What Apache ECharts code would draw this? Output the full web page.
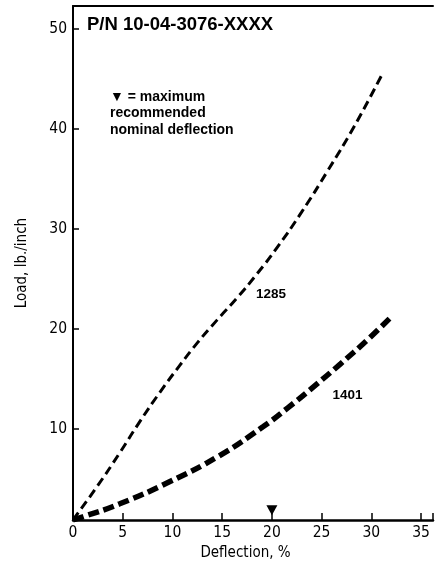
<!DOCTYPE html>
<html>
<head>
<meta charset="utf-8">
<script src="https://cdn.jsdelivr.net/npm/echarts@6/dist/echarts.min.js"></script>
<style>
html,body{margin:0;padding:0;background:#fff;}
#c{width:436px;height:566px;}
</style>
</head>
<body>
<div id="c"></div>
<script>
// Data
const deflection1285 = [0, 2.4, 4.7, 6.7, 8.7, 10.7, 12.5, 14.5, 16.5, 18.5, 20.5, 23.0, 25.6, 28.3, 31.0];
const load1285       = [0.9, 4.2, 7.6, 10.7, 13.6, 16.3, 18.6, 20.9, 23.1, 25.5, 28.1, 31.7, 35.8, 40.3, 45.3];
const deflection1401 = [0, 1.0, 4.7, 9.7, 14.7, 19.1, 21.6, 24.3, 26.9, 29.6, 32.1];
const load1401       = [0.9, 1.2, 2.5, 4.7, 7.3, 10.2, 12.1, 14.3, 16.5, 18.9, 21.3];
const maxRecommendedDeflection = 20;
const xTickLabels = [0, 5, 10, 15, 20, 25, 30, 35];
const yTickLabels = [10, 20, 30, 40, 50];
const seriesNames = ['1285', '1401'];

const narrow = "'Liberation Sans Narrow', 'Arial Narrow', 'DejaVu Sans Condensed', sans-serif";
const sans = "'Liberation Sans', Arial, 'DejaVu Sans', sans-serif";

const zip = (a, b) => a.map((v, i) => [v, b[i]]);

const chart = echarts.init(document.getElementById('c'), null, {renderer: 'canvas'});
chart.setOption({
  animation: false,
  backgroundColor: '#fff',
  grid: {left: 73, right: 0, top: 6, bottom: 42, containLabel: false},
  xAxis: [{
    type: 'value', min: 0, max: 36.2, interval: 5,
    name: 'Deflection, %', nameLocation: 'middle', nameGap: 25,
    nameTextStyle: {fontFamily: narrow, fontSize: 15, color: '#000', padding: [0, 15, 0, 0]},
    axisLine: {show: true, lineStyle: {color: '#000', width: 2.5}},
    axisTick: {show: true, inside: true, length: 7, lineStyle: {color: '#000', width: 1.5}},
    axisLabel: {
      fontFamily: narrow, fontSize: 15.5, color: '#000', margin: 5,
      formatter: v => xTickLabels.includes(v) ? String(v) : ''
    },
    splitLine: {show: false}
  }, {
    type: 'value', position: 'top', min: 0, max: 36.2,
    axisLine: {show: true, lineStyle: {color: '#000', width: 2}},
    axisTick: {show: false}, axisLabel: {show: false}, splitLine: {show: false}
  }],
  yAxis: {
    type: 'value', min: 0.87, max: 52.3,
    name: 'Load, lb./inch', nameLocation: 'middle', nameGap: 43,
    nameTextStyle: {fontFamily: narrow, fontSize: 15, color: '#000'},
    axisLine: {show: true, lineStyle: {color: '#000', width: 2}},
    axisTick: {show: true, inside: true, length: 6, lineStyle: {color: '#000', width: 1.5}},
    axisLabel: {
      fontFamily: narrow, fontSize: 15.5, color: '#000', margin: 6,
      formatter: v => yTickLabels.includes(v) ? String(v) : ''
    },
    splitLine: {show: false}
  },
  series: [{
    name: seriesNames[0], type: 'line', smooth: 0.5, symbol: 'none',
    data: zip(deflection1285, load1285),
    lineStyle: {color: '#000', width: 3, type: [9, 5], cap: 'butt'},
    markPoint: {
      symbol: 'circle', symbolSize: 0,
      label: {show: true, formatter: seriesNames[0], fontFamily: sans, fontWeight: 'bold', fontSize: 13.5, color: '#000'},
      data: [{coord: [19.9, 23.5]}]
    }
  }, {
    name: seriesNames[1], type: 'line', smooth: 0.5, symbol: 'none',
    data: zip(deflection1401, load1401),
    lineStyle: {color: '#000', width: 5.5, type: [11, 5], cap: 'butt'},
    markPoint: {
      symbol: 'circle', symbolSize: 0,
      label: {show: true, formatter: seriesNames[1], fontFamily: sans, fontWeight: 'bold', fontSize: 13.5, color: '#000'},
      data: [{coord: [27.6, 13.4]}]
    }
  }, {
    name: 'max', type: 'scatter',
    data: [[maxRecommendedDeflection, 1.85]],
    symbol: 'triangle', symbolRotate: 180, symbolSize: [11, 10],
    itemStyle: {color: '#000', opacity: 1}
  }],
  graphic: [{
    type: 'text', x: 87, y: 25,
    style: {text: 'P/N 10-04-3076-XXXX', font: "bold 18.5px " + sans, fill: '#000', verticalAlign: 'middle'}
  }, {
    type: 'text', x: 110, y: 97,
    style: {text: '\u25BC = maximum', font: "bold 14px " + sans, fill: '#000', verticalAlign: 'middle'}
  }, {
    type: 'text', x: 110, y: 113.5,
    style: {text: 'recommended', font: "bold 14px " + sans, fill: '#000', verticalAlign: 'middle'}
  }, {
    type: 'text', x: 110, y: 130,
    style: {text: 'nominal deflection', font: "bold 14px " + sans, fill: '#000', verticalAlign: 'middle'}
  }]
});
</script>
</body>
</html>
